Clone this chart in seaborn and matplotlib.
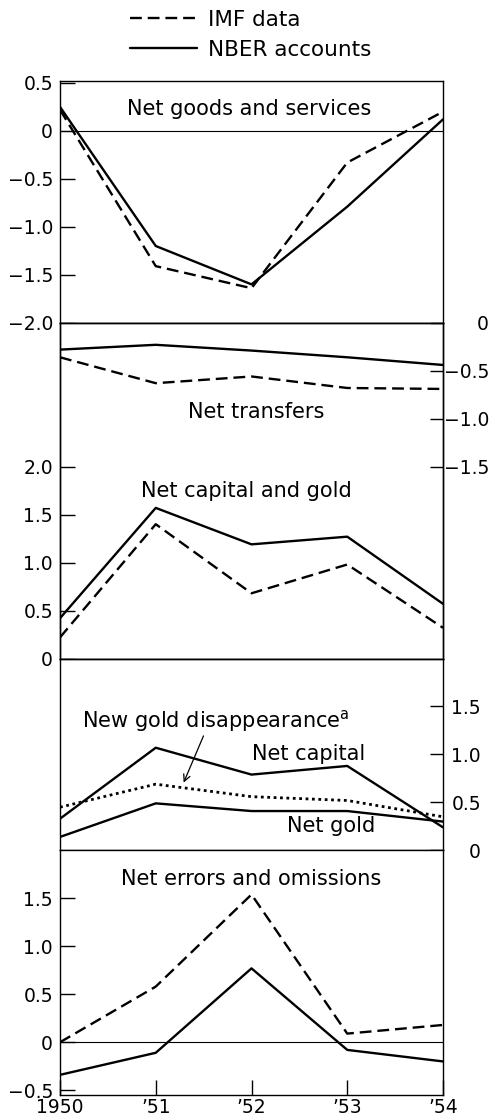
import matplotlib
matplotlib.use("Agg")
import matplotlib.pyplot as plt
import seaborn as sns
import pandas as pd

years = [1950, 1951, 1952, 1953, 1954]
year_labels = ["1950", "’51", "’52", "’53", "’54"]

goods_imf = [0.22, -1.41, -1.64, -0.33, 0.20]
goods_nber = [0.25, -1.20, -1.60, -0.79, 0.12]
transfers_imf = [-0.36, -0.63, -0.56, -0.68, -0.69]
transfers_nber = [-0.28, -0.23, -0.29, -0.36, -0.44]
capgold_imf = [0.22, 1.40, 0.68, 0.98, 0.32]
capgold_nber = [0.42, 1.57, 1.19, 1.27, 0.57]
net_capital = [0.33, 1.07, 0.79, 0.88, 0.24]
new_gold = [0.45, 0.69, 0.56, 0.52, 0.35]
net_gold = [0.14, 0.49, 0.41, 0.41, 0.30]
errors_imf = [0.00, 0.58, 1.54, 0.09, 0.18]
errors_nber = [-0.34, -0.11, 0.77, -0.08, -0.20]

sns.set_style("ticks")
plt.rcParams["font.family"] = ["DejaVu Sans"]
plt.rcParams["mathtext.default"] = "regular"
plt.rcParams["axes.linewidth"] = 1.0
plt.rcParams["text.color"] = "black"

FS = 15        # panel labels
TFS = 13.5     # tick labels
DASH = (0, (5, 2.5))
LW = 1.7
K = "black"

W, H = 492, 1117
fig, axes = plt.subplots(
    4, 1, figsize=(W / 100, H / 100), dpi=100,
    gridspec_kw=dict(height_ratios=[2.52, 3.5, 2.0, 2.55], hspace=0,
                     left=60 / W, right=443 / W, top=1 - 81 / H, bottom=1 - 1095 / H),
)
ax1, ax3, ax4, ax5 = axes
ax2 = ax3.twinx()


def line(ax, vals, style="-", label=None, lw=LW):
    df = pd.DataFrame({"year": years, "value": vals})
    sns.lineplot(data=df, x="year", y="value", ax=ax, color=K, linestyle=style,
                 linewidth=lw, label=label, legend=False)


def style_axis(ax):
    ax.set_xlim(1950, 1954)
    ax.set_xlabel("")
    ax.set_ylabel("")
    for s in ax.spines.values():
        s.set_visible(True)
        s.set_color(K)
        s.set_linewidth(1.0)
    ax.tick_params(axis="both", direction="in", length=10.5, width=1.0,
                   labelsize=TFS, colors=K, pad=5)
    ax.tick_params(axis="x", length=0, labelbottom=False)


def right_labels(ax, right_px):
    ax.tick_params(axis="y", length=9.5, pad=(right_px - 443) * 0.72)
    for t in ax.get_yticklabels():
        t.set_horizontalalignment("right")


# Panel 1: net goods and services
line(ax1, goods_imf, DASH, label="IMF data")
line(ax1, goods_nber, "-", label="NBER accounts")
ax1.axhline(0, color=K, lw=0.8)
style_axis(ax1)
ax1.set_ylim(-2.0, 0.52)
ax1.set_yticks([-2.0, -1.5, -1.0, -0.5, 0, 0.5])
ax1.set_yticklabels(["−2.0", "−1.5", "−1.0", "−0.5", "0", "0.5"])
ax1.text(1951.97, 0.23, "Net goods and services", ha="center", va="center", fontsize=FS)

# Panel 2/3: net transfers (right) and net capital and gold (left)
line(ax3, capgold_imf, DASH)
line(ax3, capgold_nber, "-")
style_axis(ax3)
ax3.set_ylim(0, 3.5)
ax3.set_yticks([0, 0.5, 1.0, 1.5, 2.0])
ax3.set_yticklabels(["0", "0.5", "1.0", "1.5", "2.0"])
ax3.text(1951.95, 1.75, "Net capital and gold", ha="center", va="center", fontsize=FS)

line(ax2, transfers_imf, DASH)
line(ax2, transfers_nber, "-")
style_axis(ax2)
ax2.set_ylim(-3.5, 0)
ax2.set_yticks([-1.5, -1.0, -0.5, 0])
ax2.set_yticklabels(["−1.5", "−1.0", "−0.5", "0"])
right_labels(ax2, 489)
ax2.text(1952.05, -0.93, "Net transfers", ha="center", va="center", fontsize=FS)

# Panel 4: net capital, net gold, new gold disappearance
line(ax4, net_capital, "-")
line(ax4, new_gold, (0, (1, 1.3)), lw=2.0)
line(ax4, net_gold, "-")
style_axis(ax4)
ax4.set_ylim(0, 2.0)
ax4.yaxis.tick_right()
ax4.set_yticks([0, 0.5, 1.0, 1.5])
ax4.set_yticklabels(["0", "0.5", "1.0", "1.5"])
right_labels(ax4, 481)
ax4.text(1950.23, 1.35, "New gold disappearance$^{a}$", ha="left", va="center", fontsize=FS)
ax4.text(1952.01, 1.00, "Net capital", ha="left", va="center", fontsize=FS)
ax4.text(1952.37, 0.25, "Net gold", ha="left", va="center", fontsize=FS)
ax4.annotate("", xy=(1951.28, 0.68), xytext=(1951.51, 1.22),
             arrowprops=dict(arrowstyle="->", color=K, lw=0.9, mutation_scale=12))

# Panel 5: net errors and omissions
line(ax5, errors_imf, DASH)
line(ax5, errors_nber, "-")
ax5.axhline(0, color=K, lw=0.8)
style_axis(ax5)
ax5.set_ylim(-0.55, 2.0)
ax5.set_yticks([-0.5, 0, 0.5, 1.0, 1.5])
ax5.set_yticklabels(["−0.5", "0", "0.5", "1.0", "1.5"])
ax5.tick_params(axis="x", length=11, labelbottom=True, pad=2.5)
ax5.set_xticks(years)
ax5.set_xticklabels(year_labels)
ax5.text(1952.0, 1.70, "Net errors and omissions", ha="center", va="center", fontsize=FS)

# Legend
handles, labels = ax1.get_legend_handles_labels()
fig.legend(handles, labels, loc="upper left", bbox_to_anchor=(130 / W, 1 - 10 / H),
           frameon=False, fontsize=15.5, handlelength=3.1, handletextpad=0.5,
           labelspacing=0.45, borderpad=0, borderaxespad=0)

fig.savefig("out.png", dpi=100)
